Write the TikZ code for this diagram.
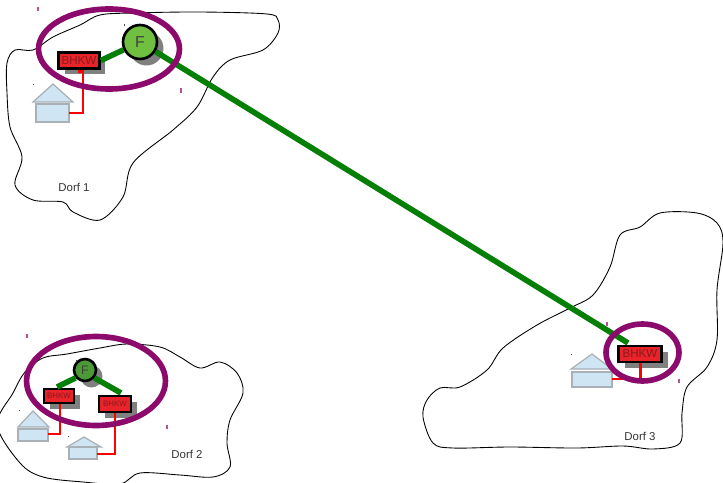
\documentclass[tikz,border=0pt]{standalone}
\usepackage{fontspec}
\setmainfont{Liberation Sans}
\usetikzlibrary{shadows,shapes.geometric}
\definecolor{ringpurple}{HTML}{8B0A6B}
\definecolor{feedgreen}{HTML}{067F06}
\definecolor{houseblue}{HTML}{CFE5F3}
\definecolor{housegray}{HTML}{A9B0B6}
\definecolor{bhkwred}{HTML}{E8232A}
\definecolor{bhkwtext}{HTML}{8A1A1E}
\definecolor{flight}{HTML}{70BF41}
\definecolor{fdark}{HTML}{4C9A35}
\begin{document}
\begin{tikzpicture}[x=0.02cm, y=-0.02cm]
    % Stile
    \tikzstyle{dorf}=[black, line width=0.5pt, smooth cycle, tension=0.55]
    \tikzstyle{label}=[text=black!80, font=\fontsize{6.5}{7}\selectfont, inner sep=0pt]
    \tikzstyle{bhkw}=[rectangle, draw=black, fill=bhkwred, text=bhkwtext, line width=1.5pt, inner sep=0pt, drop shadow={shadow xshift=0.12cm, shadow yshift=-0.12cm, fill=gray, opacity=1}]
    \tikzstyle{bhkwbig}=[bhkw, minimum width=0.82cm, minimum height=0.32cm, font=\fontsize{6.6}{7}\selectfont]
    \tikzstyle{bhkwsmall}=[bhkw, minimum width=0.6cm, minimum height=0.28cm, font=\fontsize{4.5}{5}\selectfont]
    \tikzstyle{fernwerk}=[circle, draw=black, text=black!75, line width=1.5pt, inner sep=0pt, drop shadow={shadow xshift=0.13cm, shadow yshift=-0.13cm, fill=gray, opacity=1}]
    \tikzstyle{ring}=[ellipse, draw=ringpurple, line width=3.2pt, inner sep=0pt]
    \tikzstyle{feed}=[feedgreen, line width=3.2pt]
    \tikzstyle{power}=[red, line width=1.7pt]
    \tikzstyle{house}=[draw=housegray, fill=houseblue, line width=0.7pt]
    \tikzstyle{tick}=[ringpurple!70, line width=0.6pt]
    \useasboundingbox (0,0) rectangle (723,483);

    % Dorf 1
    \draw[dorf] plot coordinates {(7,63) (15,50) (33,50) (53,37) (80,25) (100,15) (133,13) (200,12) (267,14) (278,20) (278,33) (263,50) (230,60) (213,77) (197,107) (173,130) (133,163) (123,197) (100,220) (73,212) (63,202) (33,200) (15,185) (22,157) (10,127) (7,93)};
    \node[label] (dorfA) at (74,187) {Dorf 1};
    \draw[house] (33,102) -- (53,84) -- (73,102) -- cycle;
    \draw[house] (36,104) rectangle (69,122);
    \node[bhkwbig] (bhkwA) at (79,60.5) {BHKW};
    \node[fernwerk, fill=flight, minimum size=0.68cm, font=\fontsize{9}{10}\selectfont] (fA) at (140,42) {F};
    \coordinate (houseA) at (69,113);
    \draw[power] (bhkwA.south) -- ++(0,2) -- ++(4,0) |- (houseA);
    \draw[feed] (bhkwA.east) -- (fA);

    % Dorf 2
    \draw[dorf] plot coordinates {(-3,425) (13,393) (25,372) (43,358) (67,354) (100,348) (127,344) (160,347) (180,357) (200,368) (220,362) (237,373) (243,393) (230,420) (227,443) (230,467) (213,477) (180,475) (140,473) (120,484) (83,482) (43,477) (20,463)};
    \node[label] (dorfB) at (187,454) {Dorf 2};
    \draw[house] (18,427) -- (33,411) -- (49,427) -- cycle;
    \draw[house] (18,429) rectangle (48,441);
    \draw[house] (67,447) -- (84,437) -- (101,447) -- cycle;
    \draw[house] (69,447) rectangle (97,459);
    \node[bhkwsmall] (bhkwB) at (59,396) {BHKW};
    \node[bhkwsmall, minimum width=0.64cm, minimum height=0.32cm] (bhkwD) at (115,404) {BHKW};
    \node[fernwerk, fill=fdark, minimum size=0.44cm, font=\fontsize{7}{8}\selectfont] (fB) at (85,370) {F};
    \coordinate (houseB) at (48,434);
    \coordinate (houseD) at (97,454);
    \coordinate (feedB) at (57,387);
    \coordinate (feedD) at (121,393);
    \draw[power] (bhkwB.south -| 60,0) |- (houseB);
    \draw[power] (bhkwD.south) |- (houseD);
    \draw[feed] (feedB) -- (fB.220);
    \draw[feed] (feedD) -- (fB.-40);

    % Dorf 3
    \draw[dorf] plot coordinates {(423,417) (427,400) (440,388) (460,387) (487,370) (503,348) (537,325) (570,308) (593,295) (610,267) (620,235) (640,227) (660,213) (697,213) (717,223) (723,243) (717,290) (717,340) (707,367) (687,387) (682,413) (680,443) (653,449) (623,446) (577,448) (510,447) (453,448) (433,443)};
    \node[label] (dorfC) at (640,436) {Dorf 3};
    \draw[house] (571,369) -- (592,354) -- (612,369) -- cycle;
    \draw[house] (572,372) rectangle (612,387);
    \node[bhkwbig, minimum width=0.86cm] (bhkwC) at (640,354) {BHKW};
    \coordinate (houseC) at (612,379);
    \coordinate (feedC) at (628,343);
    \draw[power] (bhkwC.south) |- (houseC);

    % Fernleitung
    \draw[feed] (fA) -- (feedC);

    % Ringe
    \node[ring, minimum width=2.82cm, minimum height=1.6cm] (ringA) at (109,49) {};
    \node[ring, minimum width=2.78cm, minimum height=1.78cm] (ringB) at (96,381) {};
    \node[ring, minimum width=1.46cm, minimum height=1.14cm] (ringC) at (642.5,352.5) {};

    % Markierungen
    \draw[tick] (38,7) -- (38,11);
    \draw[tick] (181,88) -- (181,93);
    \draw[tick] (27,334) -- (27,338);
    \draw[tick] (167,425) -- (167,429);
    \draw[tick] (607,322) -- (607,326);
    \draw[tick] (679,379) -- (679,383);
    \fill[black!70] (124,24) rectangle (124.6,26);
    \fill[black!70] (33,84) rectangle (34,84.6);
    \fill[black!70] (19,410) rectangle (20,410.6);
    \fill[black!70] (68,436) rectangle (69,436.6);
    \fill[black!70] (76,360) rectangle (76.6,362);
    \fill[black!70] (571,354) rectangle (572,354.6);
\end{tikzpicture}
\end{document}
